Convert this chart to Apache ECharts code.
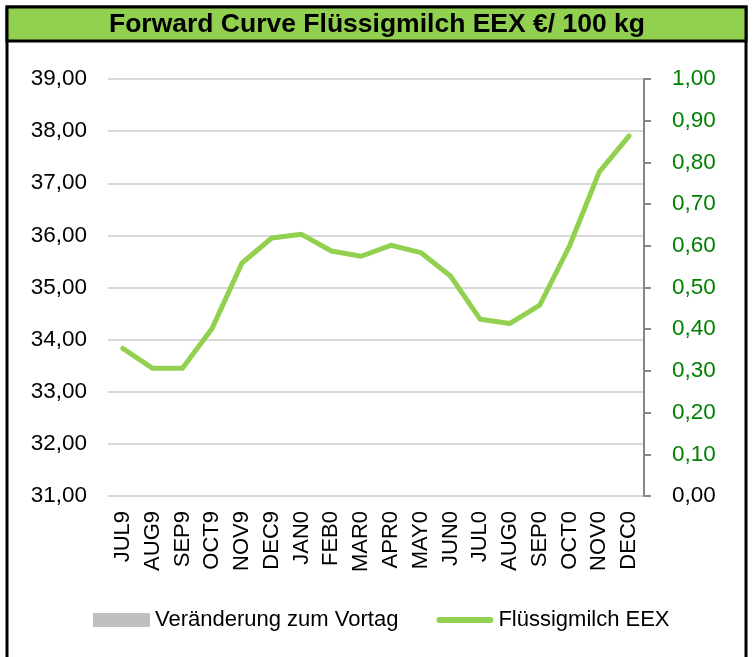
<!DOCTYPE html>
<html>
<head>
<meta charset="utf-8">
<script src="https://cdn.jsdelivr.net/npm/echarts@6/dist/echarts.min.js"></script>
<style>
  html, body { margin: 0; padding: 0; background: #fff; }
  #chart { width: 754px; height: 657px; }
</style>
</head>
<body>
<div id="chart"></div>
<script>
// contract months
var months = ['JUL9', 'AUG9', 'SEP9', 'OCT9', 'NOV9', 'DEC9', 'JAN0', 'FEB0', 'MAR0',
  'APR0', 'MAY0', 'JUN0', 'JUL0', 'AUG0', 'SEP0', 'OCT0', 'NOV0', 'DEC0'];
// Flüssigmilch EEX, €/100 kg (left axis)
var milkPrices = [33.83, 33.45, 33.45, 34.22, 35.47, 35.95, 36.02, 35.70, 35.60,
  35.81, 35.67, 35.22, 34.39, 34.31, 34.66, 35.80, 37.22, 37.91];
// Veränderung zum Vortag (right axis) - no visible bars
var dayChange = [0, 0, 0, 0, 0, 0, 0, 0, 0, 0, 0, 0, 0, 0, 0, 0, 0, 0];

var font = 'Liberation Sans, Arial, sans-serif';
var fmt = function (v) { return v.toFixed(2).replace('.', ','); };

// thick rounded line for the legend, padded to the 57x14 icon box
var lineIcon = 'path://M0,0 M57,14 M3,4 L54,4 A3,3 0 0 1 54,10 L3,10 A3,3 0 0 1 3,4 Z';

var chart = echarts.init(document.getElementById('chart'), null, { renderer: 'canvas' });

chart.setOption({
  animation: false,
  backgroundColor: '#fff',
  graphic: [
    { type: 'rect', z: 0, shape: { x: 7, y: 7, width: 739, height: 700 },
      style: { fill: null, stroke: '#000', lineWidth: 3 } },
    { type: 'rect', z: 0, shape: { x: 7, y: 7, width: 739, height: 34 },
      style: { fill: '#92D050', stroke: '#000', lineWidth: 3 } }
  ],
  title: {
    text: 'Forward Curve Flüssigmilch EEX €/ 100 kg',
    left: 'center',
    top: 11,
    padding: 0,
    textStyle: { fontFamily: font, fontSize: 26.5, fontWeight: 'bold', color: '#000' }
  },
  legend: {
    left: 88,
    top: 604,
    itemWidth: 57,
    itemHeight: 14,
    itemGap: 38,
    textStyle: { fontFamily: font, fontSize: 22, color: '#000' },
    data: [
      { name: 'Veränderung zum Vortag', icon: 'rect' },
      { name: 'Flüssigmilch EEX', icon: lineIcon }
    ]
  },
  grid: { left: 108, right: 110, top: 79, bottom: 161 },
  xAxis: {
    type: 'category',
    data: months,
    boundaryGap: true,
    axisLine: { show: false },
    axisTick: { show: false },
    axisLabel: { rotate: 90, margin: 15, interval: 0, fontFamily: font, fontSize: 22, color: '#000' }
  },
  yAxis: [
    {
      type: 'value', min: 31, max: 39, interval: 1, position: 'left',
      axisLine: { show: false },
      axisTick: { show: false },
      splitLine: { lineStyle: { color: '#d9d9d9', width: 2 } },
      axisLabel: { margin: 21, fontFamily: font, fontSize: 22.5, color: '#000', formatter: fmt }
    },
    {
      type: 'value', min: 0, max: 1, interval: 0.1, position: 'right',
      axisLine: { show: true, lineStyle: { color: '#868686', width: 2 } },
      axisTick: { show: true, length: 7, lineStyle: { color: '#868686', width: 2 } },
      splitLine: { show: false },
      axisLabel: {
        margin: 28, fontFamily: font, fontSize: 22.5, formatter: fmt,
        color: function (v) { return Number(v) === 0 ? '#000' : '#008000'; }
      }
    }
  ],
  series: [
    {
      name: 'Veränderung zum Vortag',
      type: 'bar',
      yAxisIndex: 1,
      data: dayChange,
      itemStyle: { color: '#BFBFBF' }
    },
    {
      name: 'Flüssigmilch EEX',
      type: 'line',
      yAxisIndex: 0,
      data: milkPrices,
      symbol: 'none',
      itemStyle: { color: '#92D050' },
      lineStyle: { color: '#92D050', width: 5, cap: 'round', join: 'round' }
    }
  ]
});
</script>
</body>
</html>
